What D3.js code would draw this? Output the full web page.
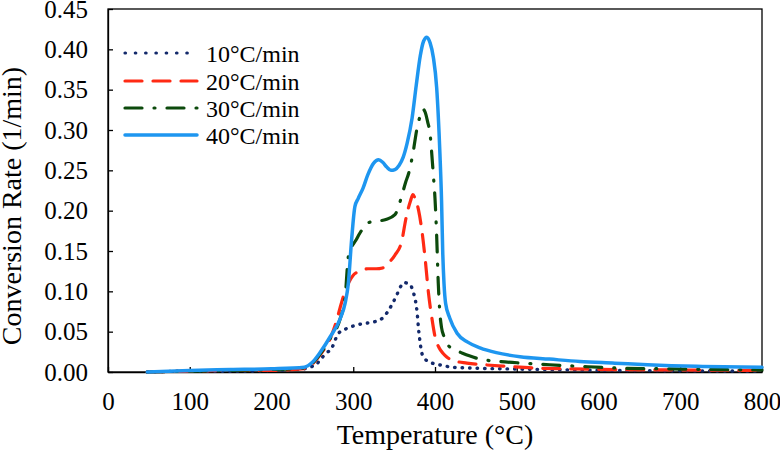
<!DOCTYPE html>
<html><head><meta charset="utf-8">
<script src="https://cdn.jsdelivr.net/npm/d3@7"></script>
<style>
html,body{margin:0;padding:0;background:#fff;}
svg text{font-family:'Liberation Serif','Times New Roman',serif !important;fill:#000;}
</style></head>
<body><svg id="c" width="780" height="458"></svg>
<script>
const seriesNames = ["10°C/min","20°C/min","30°C/min","40°C/min"];
const xTicks = [0,100,200,300,400,500,600,700,800];
const yTicks = [0,0.05,0.10,0.15,0.20,0.25,0.30,0.35,0.40,0.45];

const t10 = [48,100,150,200,240,250,255,259,264,268,274,278,282,290,300,312,325,336,341,347,353,358,362,366,370,373,376,378,380,382,384,388,394,400,410,420,440,480,540,620,700,800];
const v10 = [0,0.001,0.001,0.002,0.004,0.007,0.009,0.015,0.020,0.024,0.030,0.040,0.048,0.053,0.057,0.060,0.062,0.067,0.073,0.083,0.095,0.106,0.111,0.110,0.108,0.100,0.089,0.075,0.052,0.035,0.023,0.016,0.012,0.010,0.008,0.006,0.005,0.004,0.003,0.002,0.0015,0.001];

const t20 = [48,100,150,200,240,250,260,272,280,284,290,295,300,308,318,328,336,343,351,359,365,370,373,376,380,384,388,392,396,400,405,410,414,420,439,460,488,520,560,620,700,800];
const v20 = [0,0.001,0.002,0.002,0.004,0.010,0.022,0.042,0.065,0.080,0.100,0.112,0.120,0.125,0.128,0.128,0.129,0.135,0.145,0.161,0.193,0.212,0.220,0.214,0.200,0.175,0.140,0.098,0.068,0.044,0.030,0.023,0.019,0.015,0.011,0.009,0.007,0.005,0.004,0.003,0.0025,0.002];

const t30 = [48,100,150,200,240,250,260,272,284,290,294,298,303,308,318,329,340,351,359,364,368,373,378,382,385,388,391,394,396,398,400,402,404,406,408,411,414,418,425,432,442,455,480,508,540,577,620,680,750,800];
const v30 = [0,0.001,0.002,0.003,0.005,0.011,0.023,0.042,0.066,0.092,0.143,0.155,0.163,0.172,0.185,0.187,0.189,0.195,0.217,0.235,0.247,0.271,0.302,0.318,0.326,0.322,0.310,0.295,0.271,0.244,0.215,0.170,0.110,0.073,0.055,0.044,0.036,0.031,0.027,0.024,0.020,0.016,0.013,0.011,0.009,0.007,0.005,0.004,0.003,0.0025];

const t40 = [48,100,150,200,240,250,260,272,284,290,294,298,302,306,312,318,325,331,336,341,346,351,356,361,366,372,377,382,386,390,394,398,402,406,408,409.5,411,413,418,427,440,455,475,504,540,577,620,660,720,800];
const v40 = [0,0.002,0.003,0.004,0.006,0.012,0.025,0.044,0.066,0.085,0.110,0.164,0.205,0.215,0.228,0.245,0.259,0.263,0.260,0.254,0.250,0.251,0.256,0.266,0.284,0.315,0.355,0.392,0.410,0.415,0.408,0.390,0.353,0.271,0.213,0.147,0.110,0.085,0.067,0.048,0.037,0.030,0.024,0.019,0.016,0.013,0.011,0.009,0.007,0.006];

const colors = ["#13296b","#ff2a14","#0c4a0c","#1e96f0"];
const dashes = ["0.5,7","17,11","17,12,1,12",null];

const svg = d3.select("#c");
const L=108, R=762, T=9, B=372;
const x = d3.scaleLinear().domain([0,800]).range([L,R]);
const y = d3.scaleLinear().domain([0,0.45]).range([B,T]);

svg.append("rect").attr("x",L).attr("y",T).attr("width",R-L).attr("height",B-T)
  .attr("fill","none").attr("stroke","#000").attr("stroke-width",1.3);

const xa = svg.append("g").attr("transform",`translate(0,${B})`)
  .call(d3.axisBottom(x).tickValues(xTicks).tickFormat(d3.format("d")).tickSizeInner(-5).tickSizeOuter(0).tickPadding(20));
const ya = svg.append("g").attr("transform",`translate(${L},0)`)
  .call(d3.axisLeft(y).tickValues(yTicks).tickFormat(d3.format(".2f")).tickSizeInner(-5).tickSizeOuter(0).tickPadding(20));
[xa,ya].forEach(g=>{
  g.attr("font-family","Liberation Serif, Times New Roman, serif").attr("font-size",25);
  g.select(".domain").attr("stroke","#000").attr("stroke-width",1.3);
  g.selectAll(".tick line").attr("stroke","#000").attr("stroke-width",1.3);
  g.selectAll(".tick text").attr("fill","#000");
});

const line = d3.line().x(d=>x(d[0])).y(d=>y(d[1])).curve(d3.curveMonotoneX);
const data = [[t10,v10],[t20,v20],[t30,v30],[t40,v40]];
data.forEach((s,i)=>{
  const pts = s[0].map((t,j)=>[t,s[1][j]]);
  const p = svg.append("path").attr("d",line(pts)).attr("fill","none")
    .attr("stroke",colors[i]).attr("stroke-width", i===3?3.5:(i===0?3.4:3.2))
    .attr("stroke-linecap","round").attr("stroke-linejoin","round");
  if(dashes[i]) p.attr("stroke-dasharray",dashes[i]);
});

const ly = [53,81,108,135];
seriesNames.forEach((n,i)=>{
  const l = svg.append("line").attr("x1",125).attr("x2",197).attr("y1",ly[i]).attr("y2",ly[i])
    .attr("stroke",colors[i]).attr("stroke-width",i===3?3.5:3.2).attr("stroke-linecap","round");
  if(dashes[i]) l.attr("stroke-dasharray", i===0 ? "0.5,9.8" : dashes[i]);
  svg.append("text").attr("x",206).attr("y",ly[i]+9).attr("font-size",24).text(n);
});

svg.append("text").attr("x",(L+R)/2).attr("y",444).attr("text-anchor","middle")
  .attr("font-size",28).text("Temperature (°C)");
svg.append("text").attr("transform","translate(21,206) rotate(-90)").attr("text-anchor","middle")
  .attr("font-size",28).text("Conversion Rate (1/min)");
</script></body></html>
